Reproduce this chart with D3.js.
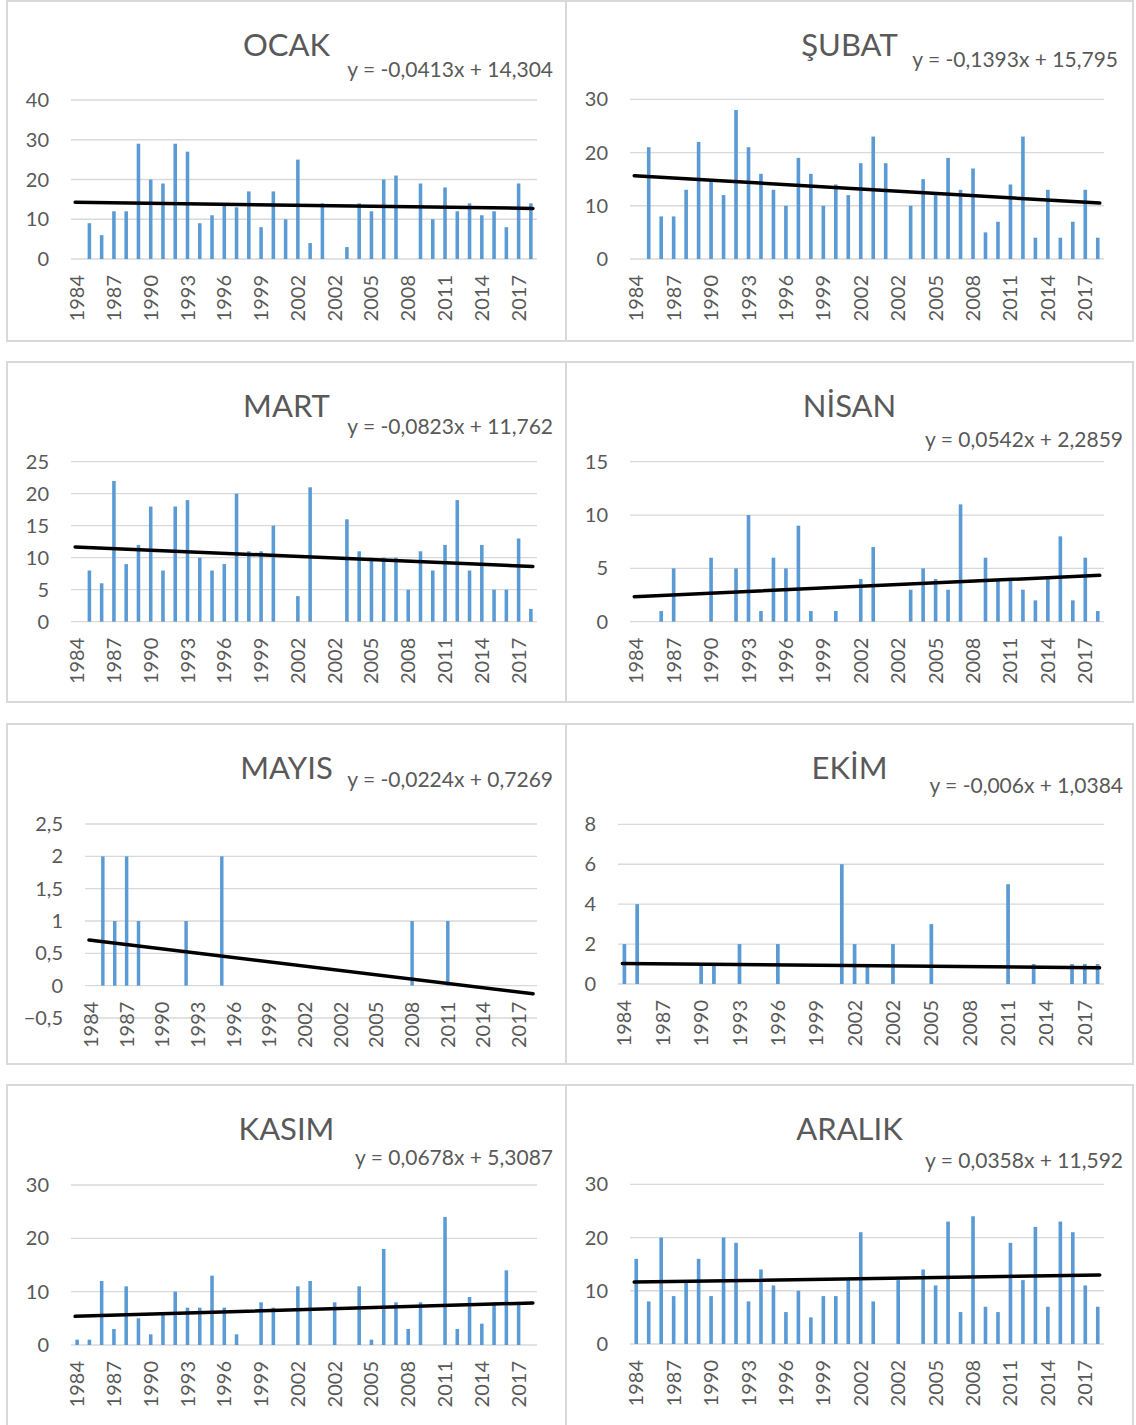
<!DOCTYPE html>
<html>
<head>
<meta charset="utf-8">
<script src="https://cdn.jsdelivr.net/npm/d3@7"></script>
<style>
body { margin: 0; background: #fff; }
text { font-family: Lato, "Open Sans", sans-serif; fill: #595959; }
</style>
</head>
<body>
<svg id="chart" width="1136" height="1425"></svg>
<script>
/*
** Data (category labels + monthly values)
 */

var yearLabels = ['1984', '1985', '1986', '1987', '1988', '1989', '1990', '1991', '1992', '1993',
    '1994', '1995', '1996', '1997', '1998', '1999', '2000', '2001', '2002', '2000',
    '2001', '2002', '2003', '2004', '2005', '2006', '2007', '2008', '2009', '2010',
    '2011', '2012', '2013', '2014', '2015', '2016', '2017', '2018'];

var ocak   = [0, 9, 6, 12, 12, 29, 20, 19, 29, 27, 9, 11, 14, 13, 17, 8, 17, 10, 25, 4, 14, 0, 3, 14, 12, 20, 21, 0, 19, 10, 18, 12, 14, 11, 12, 8, 19, 14];
var subat  = [0, 21, 8, 8, 13, 22, 15, 12, 28, 21, 16, 13, 10, 19, 16, 10, 14, 12, 18, 23, 18, 0, 10, 15, 12, 19, 13, 17, 5, 7, 14, 23, 4, 13, 4, 7, 13, 4];
var mart   = [0, 8, 6, 22, 9, 12, 18, 8, 18, 19, 10, 8, 9, 20, 11, 11, 15, 0, 4, 21, 0, 0, 16, 11, 10, 10, 10, 5, 11, 8, 12, 19, 8, 12, 5, 5, 13, 2];
var nisan  = [0, 0, 1, 5, 0, 0, 6, 0, 5, 10, 1, 6, 5, 9, 1, 0, 1, 0, 4, 7, 0, 0, 3, 5, 4, 3, 11, 0, 6, 4, 4, 3, 2, 4, 8, 2, 6, 1];
var mayis  = [0, 2, 1, 2, 1, 0, 0, 0, 1, 0, 0, 2, 0, 0, 0, 0, 0, 0, 0, 0, 0, 0, 0, 0, 0, 0, 0, 1, 0, 0, 1, 0, 0, 0, 0, 0, 0, 0];
var ekim   = [2, 4, 0, 0, 0, 0, 1, 1, 0, 2, 0, 0, 2, 0, 0, 0, 0, 6, 2, 1, 0, 2, 0, 0, 3, 0, 0, 0, 0, 0, 5, 0, 1, 0, 0, 1, 1, 1];
var kasim  = [1, 1, 12, 3, 11, 5, 2, 6, 10, 7, 7, 13, 7, 2, 0, 8, 7, 0, 11, 12, 0, 8, 0, 11, 1, 18, 8, 3, 8, 0, 24, 3, 9, 4, 8, 14, 8, 0];
var aralik = [16, 8, 20, 9, 12, 16, 9, 20, 19, 8, 14, 11, 6, 10, 5, 9, 9, 12, 21, 8, 0, 12, 0, 14, 11, 23, 6, 24, 7, 6, 19, 12, 22, 7, 23, 21, 11, 7];

var months = ['OCAK', 'ŞUBAT', 'MART', 'NİSAN', 'MAYIS', 'EKİM', 'KASIM', 'ARALIK'];
var series = [ocak, subat, mart, nisan, mayis, ekim, kasim, aralik];

// linear trendlines (x = 1..n)
var slopes = [-0.0413, -0.1393, -0.0823, 0.0542, -0.0224, -0.006, 0.0678, 0.0358];
var intercepts = [14.304, 15.795, 11.762, 2.2859, 0.7269, 1.0384, 5.3087, 11.592];
var equations = ['y = -0,0413x + 14,304', 'y = -0,1393x + 15,795', 'y = -0,0823x + 11,762',
    'y = 0,0542x + 2,2859', 'y = -0,0224x + 0,7269', 'y = -0,006x + 1,0384',
    'y = 0,0678x + 5,3087', 'y = 0,0358x + 11,592'];

// value axes
var yMin  = [0, 0, 0, 0, -0.5, 0, 0, 0];
var yMax  = [40, 30, 25, 15, 2.5, 8, 30, 30];
var yStep = [10, 10, 5, 5, 0.5, 2, 10, 10];

/*
** Layout (panel boxes, plot areas, label anchors)
 */

var panels = [
    {box: [7, 1, 559, 340],      plot: [71, 537, 100, 259],     eq: [553, 77]},
    {box: [566, 1, 567, 340],    plot: [630, 1104, 99.3, 259],  eq: [1118, 67]},
    {box: [7, 362, 559, 340],    plot: [71, 537, 461.7, 621.7], eq: [553, 434]},
    {box: [566, 362, 567, 340],  plot: [630, 1104, 461.7, 621.7], eq: [1123, 447]},
    {box: [7, 724, 559, 340],    plot: [85, 537, 824, 1018],    eq: [553, 787]},
    {box: [566, 724, 567, 340],  plot: [618, 1104, 824.3, 984], eq: [1123, 793]},
    {box: [7, 1085, 559, 345],   plot: [71, 537, 1185, 1345],   eq: [553, 1165]},
    {box: [566, 1085, 567, 345], plot: [630, 1104, 1184.3, 1344], eq: [1123, 1168]}
];

var trFormat = d3.formatLocale({decimal: ',', thousands: '.', grouping: [3], currency: ['', '']}).format(',~g');

var svg = d3.select('#chart');

function drawPanel(i) {
    var p = panels[i];
    var values = series[i];
    var g = svg.append('g');

    // frame
    g.append('rect')
        .attr('x', p.box[0]).attr('y', p.box[1])
        .attr('width', p.box[2]).attr('height', p.box[3])
        .attr('fill', 'none')
        .attr('stroke', '#d9d9d9')
        .attr('stroke-width', 2);

    var x = d3.scaleBand()
        .domain(d3.range(values.length))
        .range([p.plot[0], p.plot[1]])
        .paddingInner(0.71)
        .paddingOuter(0.355);

    var y = d3.scaleLinear()
        .domain([yMin[i], yMax[i]])
        .range([p.plot[3], p.plot[2]]);

    var ticks = d3.range(yMin[i], yMax[i] + yStep[i] / 2, yStep[i]);

    // gridlines
    g.selectAll('line.grid')
        .data(ticks)
        .enter().append('line')
        .attr('class', 'grid')
        .attr('x1', p.plot[0]).attr('x2', p.plot[1])
        .attr('y1', function (d) { return y(d); })
        .attr('y2', function (d) { return y(d); })
        .attr('stroke', '#d9d9d9')
        .attr('stroke-width', 1.3);

    // value labels
    g.selectAll('text.ytick')
        .data(ticks)
        .enter().append('text')
        .attr('class', 'ytick')
        .attr('x', p.plot[0] - 22)
        .attr('y', function (d) { return y(d); })
        .attr('dy', '0.35em')
        .attr('text-anchor', 'end')
        .style('font-size', '20px')
        .text(function (d) { return trFormat(Math.round(d * 10) / 10); });

    // bars
    g.selectAll('rect.bar')
        .data(values)
        .enter().append('rect')
        .attr('class', 'bar')
        .attr('x', function (d, k) { return x(k); })
        .attr('width', x.bandwidth())
        .attr('y', function (d) { return y(Math.max(d, 0)); })
        .attr('height', function (d) { return Math.abs(y(d) - y(0)); })
        .attr('fill', '#5b9bd5');

    // category labels (every third)
    var half = x.bandwidth() / 2;
    g.selectAll('text.xtick')
        .data(d3.range(0, values.length, 3))
        .enter().append('text')
        .attr('class', 'xtick')
        .attr('transform', function (k) {
            return 'translate(' + (x(k) + half) + ',' + (y(0) + 16) + ') rotate(-90)';
        })
        .attr('dy', '0.35em')
        .attr('text-anchor', 'end')
        .style('font-size', '20px')
        .text(function (k) { return yearLabels[k]; });

    // trendline
    var n = values.length;
    g.append('line')
        .attr('x1', x(0) + half - 2)
        .attr('y1', y(slopes[i] * 1 + intercepts[i]))
        .attr('x2', x(n - 1) + half + 2)
        .attr('y2', y(slopes[i] * n + intercepts[i]))
        .attr('stroke', '#000')
        .attr('stroke-width', 3.5)
        .attr('stroke-linecap', 'round');

    // title
    g.append('text')
        .attr('x', p.box[0] + p.box[2] / 2)
        .attr('y', p.box[1] + 55)
        .attr('text-anchor', 'middle')
        .style('font-size', '31px')
        .text(months[i]);

    // equation
    g.append('text')
        .attr('x', p.eq[0])
        .attr('y', p.eq[1])
        .attr('text-anchor', 'end')
        .style('font-size', '21px')
        .text(equations[i]);
}

for (var i = 0; i < panels.length; i++) {
    drawPanel(i);
}
</script>
</body>
</html>
